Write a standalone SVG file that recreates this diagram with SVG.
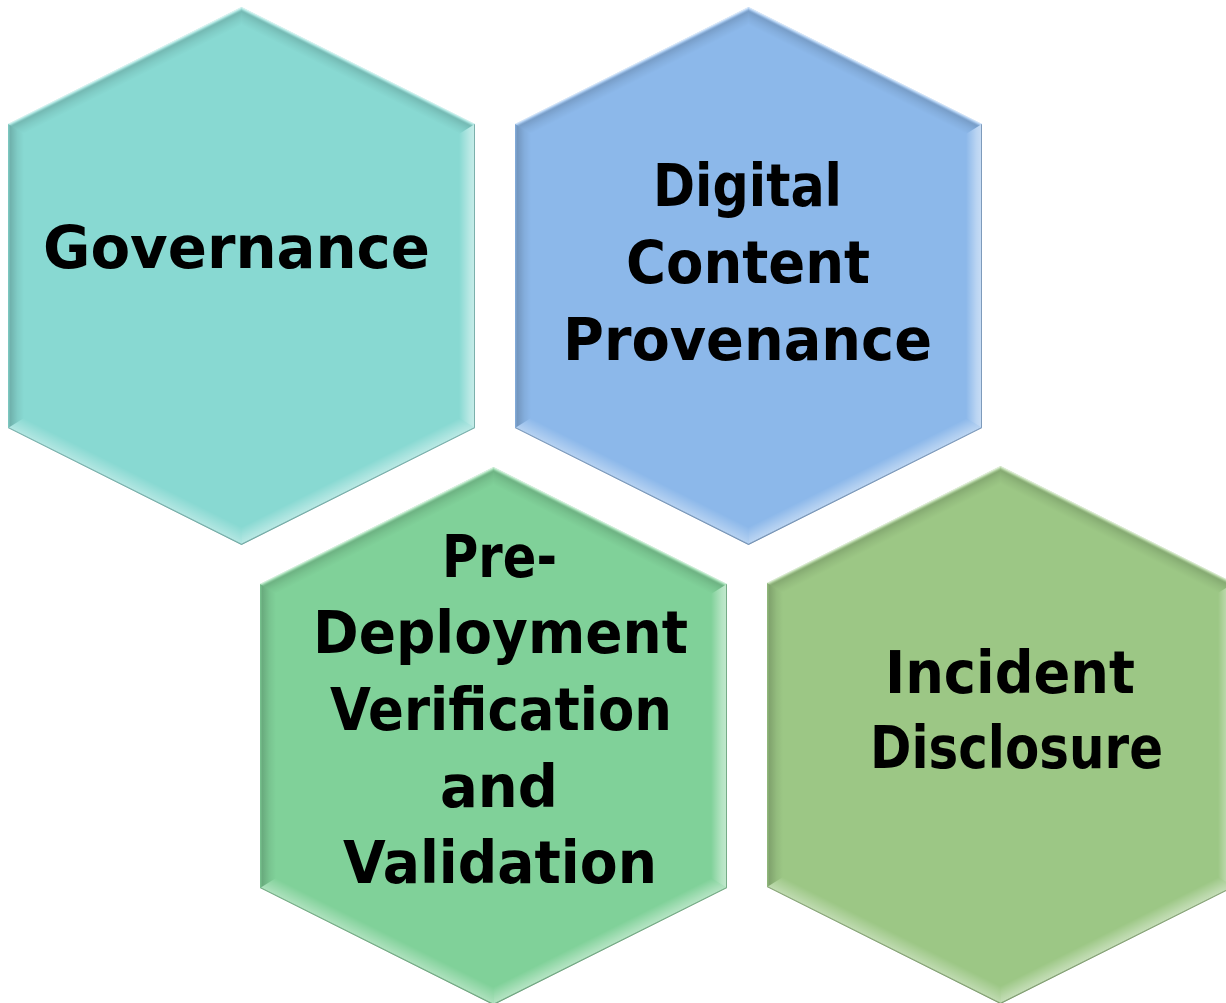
<svg xmlns="http://www.w3.org/2000/svg" width="1226" height="1003" viewBox="0 0 1226 1003">
  <style>
    .face { stroke: none; }
    .label { font-family: "DejaVu Sans", "Liberation Sans", sans-serif; font-weight: bold; font-size: 58px; fill: #000; text-anchor: middle; }
  </style>
  <defs>
    <!-- bevel shading, expressed as white/black overlays so one set serves every colour -->
    <linearGradient id="gTL" gradientUnits="userSpaceOnUse" x1="116.75" y1="58.5" x2="123.9" y2="72.8">
      <stop offset="0" stop-color="#fff" stop-opacity="0.8"/>
      <stop offset="0.1" stop-color="#fff" stop-opacity="0.25"/>
      <stop offset="0.25" stop-color="#000" stop-opacity="0.14"/>
      <stop offset="0.6" stop-color="#000" stop-opacity="0.06"/>
      <stop offset="1" stop-color="#000" stop-opacity="0"/>
    </linearGradient>
    <linearGradient id="gTR" gradientUnits="userSpaceOnUse" x1="350.25" y1="58.5" x2="343.1" y2="72.8">
      <stop offset="0" stop-color="#fff" stop-opacity="0.75"/>
      <stop offset="0.1" stop-color="#fff" stop-opacity="0.25"/>
      <stop offset="0.25" stop-color="#000" stop-opacity="0.14"/>
      <stop offset="0.6" stop-color="#000" stop-opacity="0.06"/>
      <stop offset="1" stop-color="#000" stop-opacity="0"/>
    </linearGradient>
    <linearGradient id="gL" gradientUnits="userSpaceOnUse" x1="0" y1="269" x2="16" y2="269">
      <stop offset="0" stop-color="#000" stop-opacity="0.06"/>
      <stop offset="0.15" stop-color="#000" stop-opacity="0.18"/>
      <stop offset="0.6" stop-color="#000" stop-opacity="0.06"/>
      <stop offset="1" stop-color="#000" stop-opacity="0"/>
    </linearGradient>
    <linearGradient id="gR" gradientUnits="userSpaceOnUse" x1="467" y1="269" x2="451" y2="269">
      <stop offset="0" stop-color="#000" stop-opacity="0.25"/>
      <stop offset="0.08" stop-color="#fff" stop-opacity="0.5"/>
      <stop offset="0.35" stop-color="#fff" stop-opacity="0.4"/>
      <stop offset="1" stop-color="#fff" stop-opacity="0"/>
    </linearGradient>
    <linearGradient id="gBR" gradientUnits="userSpaceOnUse" x1="350.25" y1="479.5" x2="343.1" y2="465.2">
      <stop offset="0" stop-color="#000" stop-opacity="0.3"/>
      <stop offset="0.1" stop-color="#fff" stop-opacity="0.4"/>
      <stop offset="0.35" stop-color="#fff" stop-opacity="0.3"/>
      <stop offset="1" stop-color="#fff" stop-opacity="0"/>
    </linearGradient>
    <linearGradient id="gBL" gradientUnits="userSpaceOnUse" x1="116.75" y1="479.5" x2="123.9" y2="465.2">
      <stop offset="0" stop-color="#000" stop-opacity="0.3"/>
      <stop offset="0.1" stop-color="#fff" stop-opacity="0.35"/>
      <stop offset="0.35" stop-color="#fff" stop-opacity="0.25"/>
      <stop offset="1" stop-color="#fff" stop-opacity="0"/>
    </linearGradient>

    <!-- one bevelled hexagon outline, drawn at the origin -->
    <g id="bevel">
      <polygon points="0,117 233.5,0 233.5,17.9 16,126.9" fill="url(#gTL)"/>
      <polygon points="233.5,0 467,117 451,126.9 233.5,17.9" fill="url(#gTR)"/>
      <polygon points="467,117 467,421 451,411.1 451,126.9" fill="url(#gR)"/>
      <polygon points="467,421 233.5,538 233.5,520.1 451,411.1" fill="url(#gBR)"/>
      <polygon points="233.5,538 0,421 16,411.1 233.5,520.1" fill="url(#gBL)"/>
      <polygon points="0,421 0,117 16,126.9 16,411.1" fill="url(#gL)"/>
    </g>
    <polygon id="hex" points="233.5,0 467,117 467,421 233.5,538 0,421 0,117"/>
  </defs>

  <g id="governance">
    <g transform="translate(8,7)">
      <use href="#hex" class="face" fill="#88d9d2"/>
      <use href="#bevel"/>
    </g>
    <text class="label" x="236.5" y="268" textLength="387" lengthAdjust="spacingAndGlyphs">Governance</text>
  </g>

  <g id="digital-content-provenance">
    <g transform="translate(515,7)">
      <use href="#hex" class="face" fill="#8cb8ea"/>
      <use href="#bevel"/>
    </g>
    <text class="label" x="747.5" y="206" textLength="189" lengthAdjust="spacingAndGlyphs">Digital</text>
    <text class="label" x="748" y="283" textLength="244" lengthAdjust="spacingAndGlyphs">Content</text>
    <text class="label" x="747.5" y="360" textLength="369" lengthAdjust="spacingAndGlyphs">Provenance</text>
  </g>

  <g id="pre-deployment">
    <g transform="translate(260,467)">
      <use href="#hex" class="face" fill="#80d199"/>
      <use href="#bevel"/>
    </g>
    <text class="label" x="499.5" y="577" textLength="115" lengthAdjust="spacingAndGlyphs">Pre-</text>
    <text class="label" x="500.5" y="653" textLength="375" lengthAdjust="spacingAndGlyphs">Deployment</text>
    <text class="label" x="501" y="730" textLength="342" lengthAdjust="spacingAndGlyphs">Verification</text>
    <text class="label" x="499" y="807" textLength="118" lengthAdjust="spacingAndGlyphs">and</text>
    <text class="label" x="500" y="883" textLength="314" lengthAdjust="spacingAndGlyphs">Validation</text>
  </g>

  <g id="incident-disclosure">
    <g transform="translate(767,466)">
      <use href="#hex" class="face" fill="#9cc785"/>
      <use href="#bevel"/>
    </g>
    <text class="label" x="1010" y="693" textLength="250" lengthAdjust="spacingAndGlyphs">Incident</text>
    <text class="label" x="1016.5" y="768" textLength="293" lengthAdjust="spacingAndGlyphs">Disclosure</text>
  </g>

  <g id="connectors"/>
</svg>
